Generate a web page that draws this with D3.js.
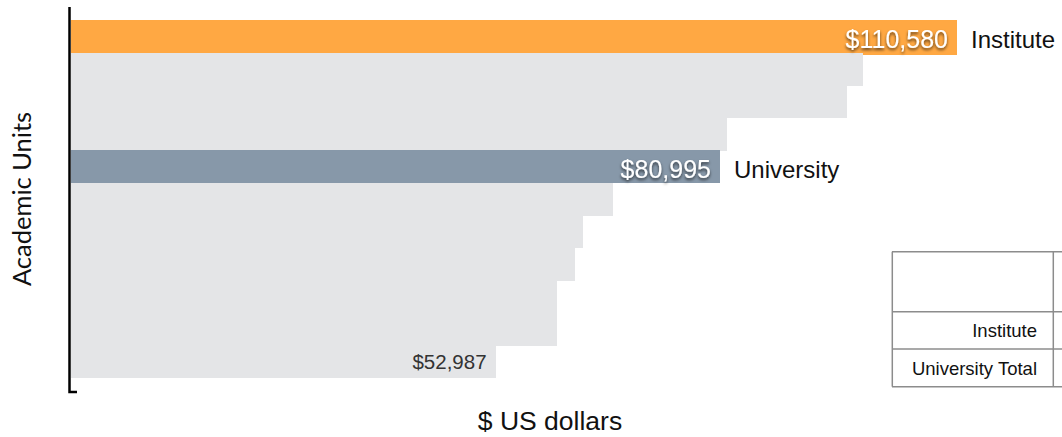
<!DOCTYPE html>
<html>
<head>
<meta charset="utf-8">
<script src="https://cdn.jsdelivr.net/npm/d3@7"></script>
<style>
  html, body { margin: 0; padding: 0; background: #fff; }
  svg { display: block; }
</style>
</head>
<body>
<svg id="chart" width="1062" height="437"></svg>
<script>
// ---- data ----
const units = ["Institute", "Unit B", "Unit C", "Unit D", "University", "Unit F",
               "Unit G", "Unit H", "Unit I", "Unit J", "Unit K"];
const salaries = [110580, 98890, 96820, 81880, 80995, 67610, 63870, 62900, 60660, 60660, 52987];
const highlight = ["institute", "", "", "", "university", "", "", "", "", "", "min"];
const sideLabels = ["Institute", "", "", "", "University", "", "", "", "", "", ""];
const tableRows = ["", "Institute", "University Total"];
const xTitle = "$ US dollars";
const yTitle = "Academic Units";

// ---- setup ----
const svg = d3.select("#chart");
const fmt = v => "$" + d3.format(",")(v);
const colors = { institute: "#FFA843", university: "#8798A9", "": "#E4E5E7", min: "#E4E5E7" };

const rows = salaries.map((v, i) => ({ unit: units[i], v, i, hl: highlight[i], side: sideLabels[i] }));

const x = d3.scaleLinear().domain([0, 110580]).range([71, 957]);
const y = d3.scaleBand().domain(d3.range(units.length)).range([20, 377.5]).padding(0);

const defs = svg.append("defs");
const f = defs.append("filter").attr("id", "shadow")
  .attr("x", "-20%").attr("y", "-40%").attr("width", "140%").attr("height", "180%");
f.append("feDropShadow").attr("dx", 0).attr("dy", 2).attr("stdDeviation", 1.8)
  .attr("flood-color", "#000").attr("flood-opacity", 0.65);

// bars
svg.append("g").attr("shape-rendering", "crispEdges")
  .selectAll("rect").data(rows).join("rect")
  .attr("x", x(0))
  .attr("y", d => y(d.i))
  .attr("width", d => x(d.v) - x(0))
  .attr("height", d => y.bandwidth() + (d.i === 0 ? 2.5 : 0.5))
  .attr("fill", d => colors[d.hl]);

// value labels
svg.append("g").selectAll("text").data(rows.filter(d => d.hl !== "")).join("text")
  .attr("x", d => x(d.v) - 9)
  .attr("y", d => y(d.i) + y.bandwidth() / 2)
  .attr("dy", d => d.hl === "min" ? "0.4em" : "0.45em")
  .attr("text-anchor", "end")
  .attr("font-family", "'Liberation Sans', Arial, sans-serif")
  .attr("font-size", d => d.hl === "min" ? 20.5 : 25)
  .attr("fill", d => d.hl === "min" ? "#333" : "#fff")
  .attr("filter", d => d.hl === "min" ? null : "url(#shadow)")
  .text(d => fmt(d.v));

// side labels
svg.append("g").selectAll("text").data(rows.filter(d => d.side !== "")).join("text")
  .attr("x", d => x(d.v) + 14)
  .attr("y", d => y(d.i) + y.bandwidth() / 2)
  .attr("dy", "0.5em")
  .attr("font-family", "'Liberation Sans', Arial, sans-serif")
  .attr("font-size", 24)
  .attr("fill", "#111")
  .text(d => d.side);

// axis line (L shape)
svg.append("path")
  .attr("d", `M69.5,7V392H77`)
  .attr("fill", "none").attr("stroke", "#000").attr("stroke-width", 2.5);

// axis titles
svg.append("text")
  .attr("x", 550).attr("y", 430)
  .attr("text-anchor", "middle")
  .attr("font-family", "'Liberation Sans', Arial, sans-serif")
  .attr("font-size", 26.5).attr("fill", "#111")
  .text(xTitle);

svg.append("text")
  .attr("transform", "translate(31,199) rotate(-90)")
  .attr("text-anchor", "middle")
  .attr("font-family", "Lato, 'Open Sans', sans-serif")
  .attr("font-size", 25.5).attr("fill", "#111")
  .text(yTitle);

// table
const rowY = [251.7, 311.7, 349, 386.7];
const tg = svg.append("g").attr("stroke", "#8c8c8c").attr("stroke-width", 1.5);
rowY.forEach(yy => tg.append("line").attr("x1", 892).attr("x2", 1062).attr("y1", yy).attr("y2", yy));
[892.3, 1053.3].forEach(xx => tg.append("line").attr("x1", xx).attr("x2", xx).attr("y1", rowY[0]).attr("y2", rowY[3]));
svg.append("g").selectAll("text").data(tableRows).join("text")
  .attr("x", 1037)
  .attr("y", (d, i) => (rowY[i] + rowY[i + 1]) / 2)
  .attr("dy", "0.36em")
  .attr("text-anchor", "end")
  .attr("font-family", "'Liberation Sans', Arial, sans-serif")
  .attr("font-size", 18.5).attr("fill", "#111")
  .text(d => d);
</script>
</body>
</html>
